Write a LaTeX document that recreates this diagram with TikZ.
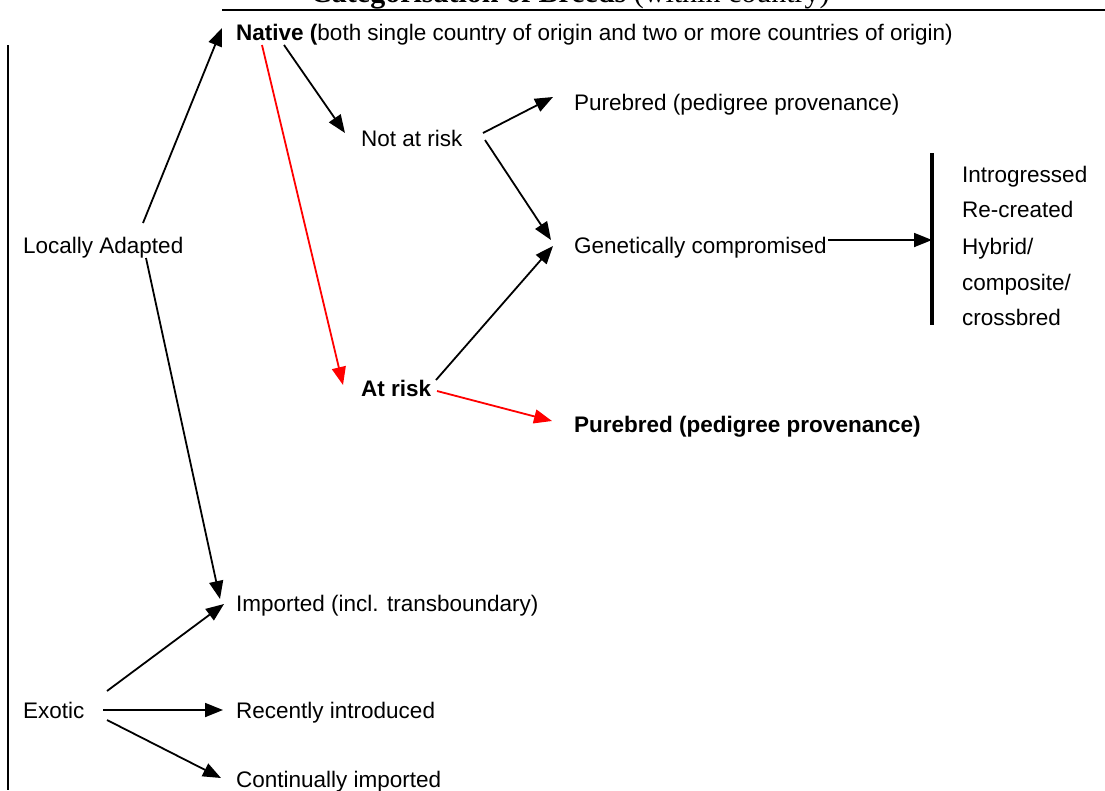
\documentclass[tikz,border=0pt]{standalone}
\usepackage{fontspec}
\setmainfont{Liberation Sans}
\newfontfamily\titlefont{Liberation Serif}
\usetikzlibrary{arrows.meta}
\begin{document}
\begin{tikzpicture}[x=1pt,y=-1pt,
  lbl/.style={anchor=base west, inner sep=0pt, font=\fontsize{22.5}{26}\selectfont},
  arr/.style={-{Triangle[length=18pt,width=14pt]}, line width=1.8pt, black},
  redarr/.style={arr, red},
  rule/.style={line width=2.2pt, black}]
\useasboundingbox (0,0) rectangle (1105,790);
% title (cut off at top)
\node[anchor=base, inner sep=0pt, font=\titlefont\fontsize{30}{34}\selectfont] (title) at (570,2) {\textbf{Categorisation of Breeds} (within country)};
\coordinate (hl1) at (222,10); \coordinate (hl2) at (1105,10);
\draw[rule] (hl1) -- (hl2);
\coordinate (vl1) at (8,45); \coordinate (vl2) at (8,790);
\draw[rule] (vl1) -- (vl2);
% nodes
\node[lbl] (native) at (236,40.5) {\textbf{Native (}both single country of origin and two or more countries of origin)};
\node[lbl] (notrisk) at (361,146.5) {Not at risk};
\node[lbl] (pure1) at (574,110.5) {Purebred (pedigree provenance)};
\node[lbl] (gen) at (574,253.5) {Genetically compromised};
\node[lbl] (local) at (23,253.5) {Locally Adapted};
\node[lbl] (atrisk) at (361,396.5) {\textbf{At risk}};
\node[lbl] (pure2) at (574,432.5) {\textbf{Purebred (pedigree provenance)}};
\node[lbl] (imp) at (236,611.5) {Imported (incl. transboundary)};
\node[lbl] (exotic) at (23,718.5) {Exotic};
\node[lbl] (recent) at (236,718.5) {Recently introduced};
\node[lbl] (cont) at (236,787.5) {Continually imported};
\node[lbl] (l1) at (962,182.5) {Introgressed};
\node[lbl] (l2) at (962,217.5) {Re-created};
\node[lbl] (l3) at (962,254.5) {Hybrid/};
\node[lbl] (l4) at (962,290.5) {composite/};
\node[lbl] (l5) at (962,325.5) {crossbred};
% bar
\coordinate (bar1) at (932,153); \coordinate (bar2) at (932,325);
\draw[line width=3.4pt] (bar1) -- (bar2);
% connector end points
\coordinate (laN) at (143,223);
\coordinate (naS) at (222,28);
\coordinate (naA) at (284,45);
\coordinate (nrT) at (345,133);
\coordinate (naR) at (262,45);
\coordinate (arT) at (343,385);
\coordinate (nrA) at (483,133);
\coordinate (p1T) at (553,97);
\coordinate (nrB) at (485,140);
\coordinate (gT1) at (551,240);
\coordinate (arA) at (436,380);
\coordinate (gT2) at (553,246);
\coordinate (arB) at (437,391);
\coordinate (p2T) at (552,421);
\coordinate (gA) at (828,240);
\coordinate (barT) at (932,240);
\coordinate (laS) at (146,258);
\coordinate (imT1) at (220,599);
\coordinate (exA) at (107,691);
\coordinate (imT2) at (224,604);
\coordinate (exB) at (103,710);
\coordinate (reT) at (223,710);
\coordinate (exC) at (107,720);
\coordinate (coT) at (221,778);
% connectors
\draw[arr] (laN) -- (naS);
\draw[arr] (naA) -- (nrT);
\draw[redarr] (naR) -- (arT);
\draw[arr] (nrA) -- (p1T);
\draw[arr] (nrB) -- (gT1);
\draw[arr] (arA) -- (gT2);
\draw[redarr] (arB) -- (p2T);
\draw[arr] (gA) -- (barT);
\draw[arr] (laS) -- (imT1);
\draw[arr] (exA) -- (imT2);
\draw[arr] (exB) -- (reT);
\draw[arr] (exC) -- (coT);
\end{tikzpicture}
\end{document}
